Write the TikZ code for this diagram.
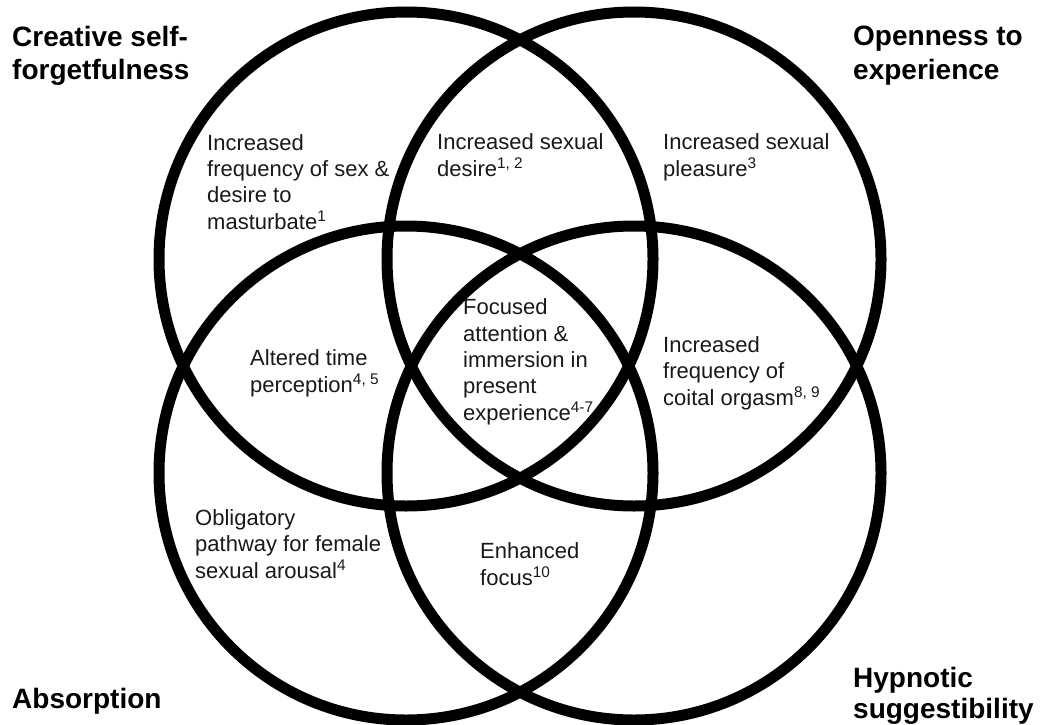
\documentclass[tikz,border=0pt]{standalone}
\usepackage{fontspec}
\setmainfont{Liberation Sans}
\begin{document}
\begin{tikzpicture}[x=1pt,y=-1pt,
  ring/.style={draw=black,line width=11pt},
  lbl/.style={anchor=base west,align=left,inner sep=0pt,font=\fontsize{22}{26.3}\selectfont,text=black!90},
  hdr/.style={anchor=base west,align=left,inner sep=0pt,font=\fontsize{28}{33}\selectfont\bfseries,text=black}]
\useasboundingbox (0,0) rectangle (1041,725);
\fill[white] (0,0) rectangle (1041,725);
\draw[ring] (406,259) circle [radius=247pt];
\draw[ring] (634,259) circle [radius=247pt];
\draw[ring] (406,473) circle [radius=247pt];
\draw[ring] (634,473) circle [radius=247pt];
\node[hdr] (h1) at (12,80) {Creative self-\\forgetfulness};
\node[hdr] (h2) at (853,79) {Openness to\\experience};
\node[hdr] (h3) at (12,708) {Absorption};
\node[hdr,font=\fontsize{28}{31}\selectfont\bfseries] (h4) at (853,718) {Hypnotic\\suggestibility};
\node[lbl] (t1) at (207,229) {Increased\\frequency of sex \&\\desire to\\masturbate\textsuperscript{1}};
\node[lbl] (t2) at (437,176) {Increased sexual\\desire\textsuperscript{1, 2}};
\node[lbl] (t3) at (663,176) {Increased sexual\\pleasure\textsuperscript{3}};
\node[lbl] (t4) at (463,420) {Focused\\attention \&\\immersion in\\present\\experience\textsuperscript{4-7}};
\node[lbl] (t5) at (250,392) {Altered time\\perception\textsuperscript{4, 5}};
\node[lbl] (t6) at (663,405) {Increased\\frequency of\\coital orgasm\textsuperscript{8, 9}};
\node[lbl] (t7) at (195,578) {Obligatory\\pathway for female\\sexual arousal\textsuperscript{4}};
\node[lbl] (t8) at (480,585) {Enhanced\\focus\textsuperscript{10}};
\end{tikzpicture}
\end{document}
